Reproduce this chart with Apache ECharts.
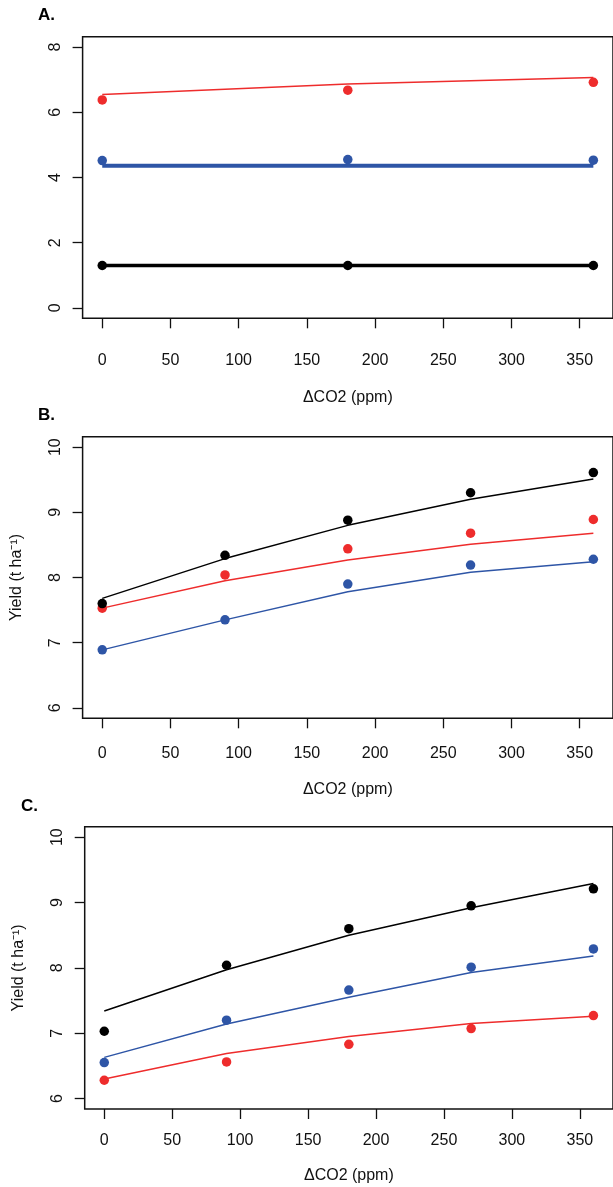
<!DOCTYPE html>
<html>
<head>
<meta charset="utf-8">
<script src="https://cdn.jsdelivr.net/npm/echarts@6/dist/echarts.min.js"></script>
<style>
html,body{margin:0;padding:0;background:#fff;}
#c{width:613px;height:1187px;}
</style>
</head>
<body>
<div id="c"></div>
<script>
// ---- data ----
var co2A = [0, 180, 360];
var aRedPts = [6.38, 6.68, 6.92];
var aRedFit = [6.55, 6.87, 7.07];
var aBluePts = [4.52, 4.55, 4.53];
var aBlueFit = [4.36, 4.36, 4.36];
var aBlackPts = [1.30, 1.30, 1.30];
var aBlackFit = [1.30, 1.30, 1.30];

var co2 = [0, 90, 180, 270, 360];
var bBlackPts = [7.60, 8.34, 8.88, 9.30, 9.61];
var bBlackFit = [7.68, 8.29, 8.80, 9.20, 9.51];
var bRedPts = [7.53, 8.04, 8.44, 8.68, 8.89];
var bRedFit = [7.53, 7.95, 8.27, 8.51, 8.68];
var bBluePts = [6.89, 7.35, 7.90, 8.19, 8.28];
var bBlueFit = [6.89, 7.35, 7.78, 8.08, 8.24];

var cBlackPts = [7.03, 8.04, 8.60, 8.95, 9.21];
var cBlackFit = [7.34, 7.97, 8.50, 8.92, 9.29];
var cBluePts = [6.55, 7.20, 7.66, 8.01, 8.29];
var cBlueFit = [6.63, 7.14, 7.55, 7.93, 8.18];
var cRedPts = [6.28, 6.56, 6.83, 7.07, 7.27];
var cRedFit = [6.30, 6.69, 6.95, 7.15, 7.26];

var xTicks = [0, 50, 100, 150, 200, 250, 300, 350];
var yTicksA = [0, 2, 4, 6, 8];
var yTicksBC = [6, 7, 8, 9, 10];
var panelLabels = ['A.', 'B.', 'C.'];
var xTitle = '\u0394CO2 (ppm)';
var yTitle = 'Yield (t ha\u207B\u00B9)';

// ---- styling ----
var RED = '#EE2C2C', BLUE = '#2E55A6', BLACK = '#000000';
var FONT = "'Liberation Sans', Arial, Helvetica, sans-serif";

function pairs(xs, ys) { return xs.map(function (x, i) { return [x, ys[i]]; }); }

var grids = [
  {left: 82.6, top: 36.7, width: 532, height: 281.6},
  {left: 82.6, top: 436.7, width: 532, height: 281.6},
  {left: 84.7, top: 826.7, width: 532, height: 282.3}
];
grids.forEach(function (g) { g.show = true; g.borderColor = '#111'; g.borderWidth = 1.5; g.backgroundColor = 'transparent'; g.containLabel = false; });

var xMargins = [34, 27, 24];
var xGaps = [71, 63, 59];

var xAxes = [0, 1, 2].map(function (i) {
  return {
    type: 'value', gridIndex: i, min: -14.4, max: 374.4, position: 'bottom',
    axisLine: {show: false, onZero: false},
    splitLine: {show: false},
    axisTick: {show: true, inside: false, length: 10, customValues: xTicks, lineStyle: {color: '#111', width: 1.3}},
    axisLabel: {customValues: xTicks, margin: xMargins[i], fontSize: 16, fontFamily: FONT, color: '#111'},
    name: xTitle, nameLocation: 'middle', nameGap: xGaps[i],
    nameTextStyle: {fontSize: 16, fontFamily: FONT, color: '#111'}
  };
});

var yAxes = [0, 1, 2].map(function (i) {
  var ticks = i === 0 ? yTicksA : yTicksBC;
  var ax = {
    type: 'value', gridIndex: i, position: 'left',
    min: i === 0 ? -0.32 : 5.84, max: i === 0 ? 8.32 : 10.16,
    axisLine: {show: false, onZero: false},
    splitLine: {show: false},
    axisTick: {show: true, inside: false, length: 10, customValues: ticks, lineStyle: {color: '#111', width: 1.3}},
    axisLabel: {customValues: ticks, rotate: 90, margin: 19, fontSize: 16, fontFamily: FONT, color: '#111'}
  };
  if (i > 0) {
    ax.name = yTitle; ax.nameLocation = 'middle'; ax.nameGap = 58;
    ax.nameTextStyle = {fontSize: 16, fontFamily: FONT, color: '#111'};
  }
  return ax;
});

function lineS(idx, xs, ys, color, w) {
  return {type: 'line', xAxisIndex: idx, yAxisIndex: idx, data: pairs(xs, ys), showSymbol: false, symbol: 'none',
          lineStyle: {color: color, width: w}, silent: true, animation: false, z: 2};
}
function ptS(idx, xs, ys, color) {
  return {type: 'scatter', xAxisIndex: idx, yAxisIndex: idx, data: pairs(xs, ys), symbol: 'circle', symbolSize: 9.5,
          itemStyle: {color: color, opacity: 1}, silent: true, animation: false, z: 3};
}

var series = [
  lineS(0, co2A, aRedFit, RED, 1.5),
  lineS(0, co2A, aBlueFit, BLUE, 4),
  lineS(0, co2A, aBlackFit, BLACK, 3.5),
  ptS(0, co2A, aRedPts, RED),
  ptS(0, co2A, aBluePts, BLUE),
  ptS(0, co2A, aBlackPts, BLACK),

  lineS(1, co2, bBlueFit, BLUE, 1.5),
  lineS(1, co2, bRedFit, RED, 1.5),
  lineS(1, co2, bBlackFit, BLACK, 1.5),
  ptS(1, co2, bBluePts, BLUE),
  ptS(1, co2, bRedPts, RED),
  ptS(1, co2, bBlackPts, BLACK),

  lineS(2, co2, cRedFit, RED, 1.5),
  lineS(2, co2, cBlueFit, BLUE, 1.5),
  lineS(2, co2, cBlackFit, BLACK, 1.5),
  ptS(2, co2, cRedPts, RED),
  ptS(2, co2, cBluePts, BLUE),
  ptS(2, co2, cBlackPts, BLACK)
];

var titlePos = [[38, 7], [38, 407], [21, 798]];
var titles = panelLabels.map(function (t, i) {
  return {text: t, left: titlePos[i][0], top: titlePos[i][1], padding: 0,
          textStyle: {fontSize: 17, fontWeight: 'bold', fontFamily: FONT, color: '#000'}};
});

var chart = echarts.init(document.getElementById('c'), null, {renderer: 'canvas'});
chart.setOption({
  animation: false,
  backgroundColor: '#fff',
  title: titles,
  grid: grids,
  xAxis: xAxes,
  yAxis: yAxes,
  series: series
});
</script>
</body>
</html>
